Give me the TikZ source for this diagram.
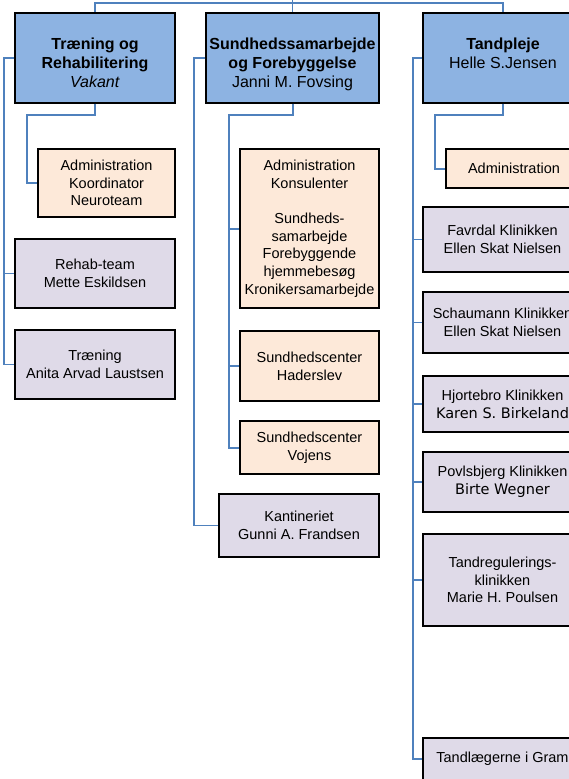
\documentclass[tikz,border=0pt]{standalone}
\usepackage{fontspec}
\setmainfont{Liberation Sans}
\newfontfamily\dejavu{DejaVu Sans}
\definecolor{headblue}{HTML}{8DB3E2}
\definecolor{peach}{HTML}{FDE9D9}
\definecolor{lav}{HTML}{DFDAE8}
\definecolor{lineblue}{HTML}{4F81BD}
\begin{document}
\begin{tikzpicture}[x=1pt,y=-1pt,
  box/.style={draw=black, line width=1.3pt, inner sep=0pt, align=center,
    font=\fontsize{14.5}{17.7}\selectfont},
  headbox/.style={box, fill=headblue, minimum height=90pt},
  admbox/.style={box, fill=peach},
  unitbox/.style={box, fill=lav},
  htext/.style={align=center, inner sep=0pt, anchor=north,
    font=\fontsize{16}{19}\selectfont},
  bus/.style={draw=lineblue, line width=1.3pt},
  ibus/.style={draw=lineblue, line width=2pt}]
\clip (0,0) rectangle (569,779);
\fill[white] (0,0) rectangle (569,779);

% head boxes
\node[headbox, minimum width=160pt] (A) at (95,58) {};
\node[headbox, minimum width=173pt] (B) at (292.5,58) {};
\node[headbox, minimum width=160pt] (C) at (503,58) {};
\node[htext] (At) at (95,37.5) {\textbf{Træning og}\\\textbf{Rehabilitering}\\\textit{Vakant}};
\node[htext] (Bt) at (292.5,37.5) {\textbf{Sundhedssamarbejde}\\\textbf{og Forebyggelse}\\Janni M. Fovsing};
\node[htext] (Ct) at (503,37.5) {\textbf{Tandpleje}\\Helle S.Jensen};

% column A
\node[admbox, minimum width=137pt, minimum height=68pt] (Aadm) at (106.5,183) {Administration\\Koordinator\\Neuroteam};
\node[unitbox, minimum width=160pt, minimum height=69pt] (Rehab) at (95,273.5) {Rehab-team\\Mette Eskildsen};
\node[unitbox, minimum width=160pt, minimum height=69pt] (Traen) at (95,364.5) {Træning\\Anita Arvad Laustsen};

% column B
\node[admbox, minimum width=139pt, minimum height=159pt] (Badm) at (309.5,228.5) {Administration\\Konsulenter\\[17.7pt]Sundheds-\\samarbejde\\Forebyggende\\hjemmebesøg\\Kronikersamarbejde};
\node[admbox, minimum width=139pt, minimum height=70pt] (Hader) at (309.5,366) {Sundhedscenter\\Haderslev};
\node[admbox, minimum width=139pt, minimum height=53pt] (Vojens) at (309.5,447.5) {Sundhedscenter\\Vojens};
\node[unitbox, minimum width=160pt, minimum height=63pt] (Kant) at (299,525.5) {Kantineriet\\Gunni A. Frandsen};

% column C
\node[admbox, minimum width=136pt, minimum height=39pt] (Cadm) at (514,168.5) {Administration};
\node[unitbox, minimum width=159pt, minimum height=65pt] (Favr) at (502.5,239.5) {Favrdal Klinikken\\Ellen Skat Nielsen};
\node[unitbox, minimum width=159pt, minimum height=61pt] (Schau) at (502.5,322.5) {Schaumann Klinikken\\Ellen Skat Nielsen};
\node[unitbox, minimum width=159pt, minimum height=56pt] (Hjort) at (502.5,404) {Hjortebro Klinikken\\{\dejavu Karen S. Birkeland}};
\node[unitbox, minimum width=159pt, minimum height=60pt] (Povl) at (502.5,482) {Povlsbjerg Klinikken\\{\dejavu Birte Wegner}};
\node[unitbox, minimum width=159pt, minimum height=92pt] (Tandr) at (502.5,580) {Tandregulerings-\\klinikken\\Marie H. Poulsen};
\node[unitbox, minimum width=159pt, minimum height=42pt] (Gram) at (502.5,759) {Tandlægerne i Gram};

% top connectors
\coordinate (top) at (292.5,-10);
\coordinate (topbar) at (292.5,3);
\draw[bus] (top) -- (topbar);
\draw[bus] (topbar) -| (A.north);
\draw[bus] (topbar) -| (C.north);
\draw[bus] (topbar) -- (B.north);

% outer buses
\coordinate (ab) at (4,58);
\draw[bus] (A.west) -- (ab) |- (Rehab.west);
\draw[bus] (ab) |- (Traen.west);
\coordinate (bb) at (194,58);
\draw[bus] (B.west) -- (bb) |- (Kant.west);
\coordinate (cb) at (413,58);
\draw[bus] (C.west) -- (cb) |- (Favr.west);
\draw[bus] (cb) |- (Schau.west);
\draw[bus] (cb) |- (Hjort.west);
\draw[bus] (cb) |- (Povl.west);
\draw[bus] (cb) |- (Tandr.west);
\draw[bus] (cb) |- (Gram.west);

% inner buses
\coordinate (aj) at (27,115);
\draw[ibus] (A.south) |- (aj) |- (Aadm.west);
\coordinate (bj) at (229,115);
\draw[ibus] (B.south) |- (bj) |- (Badm.west);
\draw[ibus] (bj) |- (Hader.west);
\draw[ibus] (bj) |- (Vojens.west);
\coordinate (cj) at (435,115);
\draw[ibus] (C.south) |- (cj) |- (Cadm.west);
\end{tikzpicture}
\end{document}
